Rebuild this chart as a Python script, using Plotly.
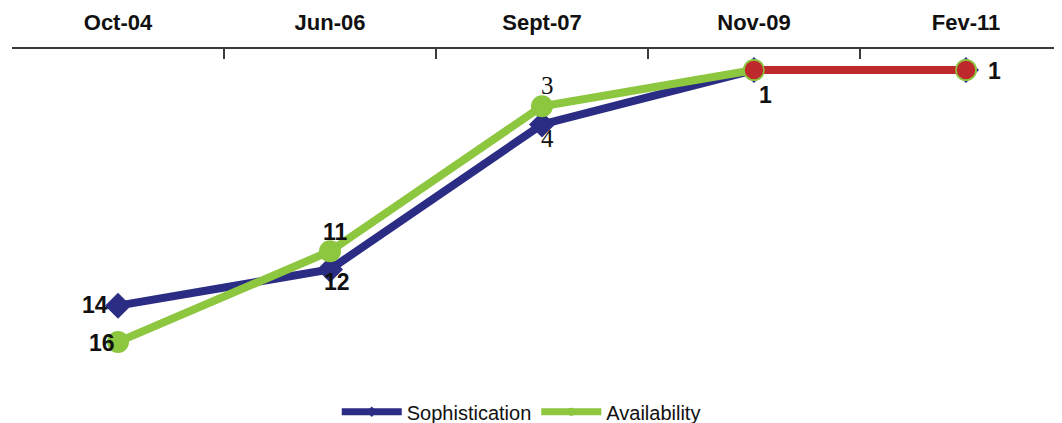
import plotly.graph_objects as go

categories = ["Oct-04", "Jun-06", "Sept-07", "Nov-09", "Fev-11"]
sophistication = [14, 12, 4, 1, 1]
availability = [16, 11, 3, 1, 1]

BLUE = "#2B2C84"
GREEN = "#8DC63F"
RED = "#BE2A2C"
TXT = "#111111"

fig = go.Figure()
fig.add_trace(go.Scatter(
    x=categories, y=sophistication, name="Sophistication", mode="lines+markers",
    line=dict(color=BLUE, width=8), showlegend=False,
    marker=dict(symbol="diamond", size=20, color=BLUE),
))
fig.add_trace(go.Scatter(
    x=categories, y=availability, name="Availability", mode="lines+markers",
    line=dict(color=GREEN, width=8), showlegend=False,
    marker=dict(symbol="circle", size=22, color=GREEN),
))
# highlighted final segment (both series equal)
fig.add_trace(go.Scatter(
    x=categories[3:], y=availability[3:], mode="lines+markers", showlegend=False,
    line=dict(color=RED, width=8),
    marker=dict(symbol="circle", size=20, color=RED, line=dict(color=GREEN, width=1.5)),
))
# legend entries with small markers
fig.add_trace(go.Scatter(
    x=[None], y=[None], name="Sophistication", mode="lines+markers",
    line=dict(color=BLUE, width=7), marker=dict(symbol="diamond", size=8, color=BLUE),
))
fig.add_trace(go.Scatter(
    x=[None], y=[None], name="Availability", mode="lines+markers",
    line=dict(color=GREEN, width=7), marker=dict(symbol="circle", size=8, color=GREEN),
))

sans = dict(family="Liberation Sans, Arial", size=23, color=TXT, weight="bold")
serif = dict(family="Liberation Serif, Times New Roman", size=25, color=TXT)

# label offsets (pixels) per point index
soph_labels = {0: dict(xanchor="right", xshift=-8, yshift=1, font=sans),
               1: dict(xshift=7, yshift=-13, font=sans),
               2: dict(xshift=6, yshift=-14, font=serif),
               3: dict(xshift=12, yshift=-25, font=sans)}
avail_labels = {0: dict(xanchor="right", xshift=-1, yshift=-1, font=sans),
                1: dict(xshift=6, yshift=19, font=sans),
                2: dict(xshift=6, yshift=21, font=serif),
                4: dict(xshift=29, yshift=-1, font=sans)}

for series, labels in ((sophistication, soph_labels), (availability, avail_labels)):
    for i, opts in labels.items():
        fig.add_annotation(x=categories[i], y=series[i], text=str(series[i]),
                           showarrow=False, **opts)

fig.update_layout(
    width=1054, height=415,
    margin=dict(l=4, r=0, t=41, b=43),
    paper_bgcolor="white", plot_bgcolor="white",
    font=dict(family="Liberation Sans, Arial", color=TXT),
    xaxis=dict(
        type="category", side="top", range=[-0.5, 4.453],
        showline=True, linecolor="#3a3a3a", linewidth=2,
        ticks="inside", ticklen=10, tickcolor="#3a3a3a", tickwidth=2,
        tickson="boundaries", showgrid=False, zeroline=False,
        tickfont=dict(family="Liberation Sans, Arial", size=22, color=TXT, weight="bold"),
        ticklabelstandoff=8,
    ),
    yaxis=dict(
        range=[18.1, -0.16], visible=False, showgrid=False, zeroline=False,
    ),
    showlegend=True,
    legend=dict(
        orientation="h", x=0.485, xanchor="center",
        yref="container", y=0.027, yanchor="middle",
        font=dict(family="Liberation Sans, Arial", size=20, color=TXT),
        itemwidth=60, tracegroupgap=0, bgcolor="rgba(0,0,0,0)",
    ),
)

fig.write_html("out.html")
